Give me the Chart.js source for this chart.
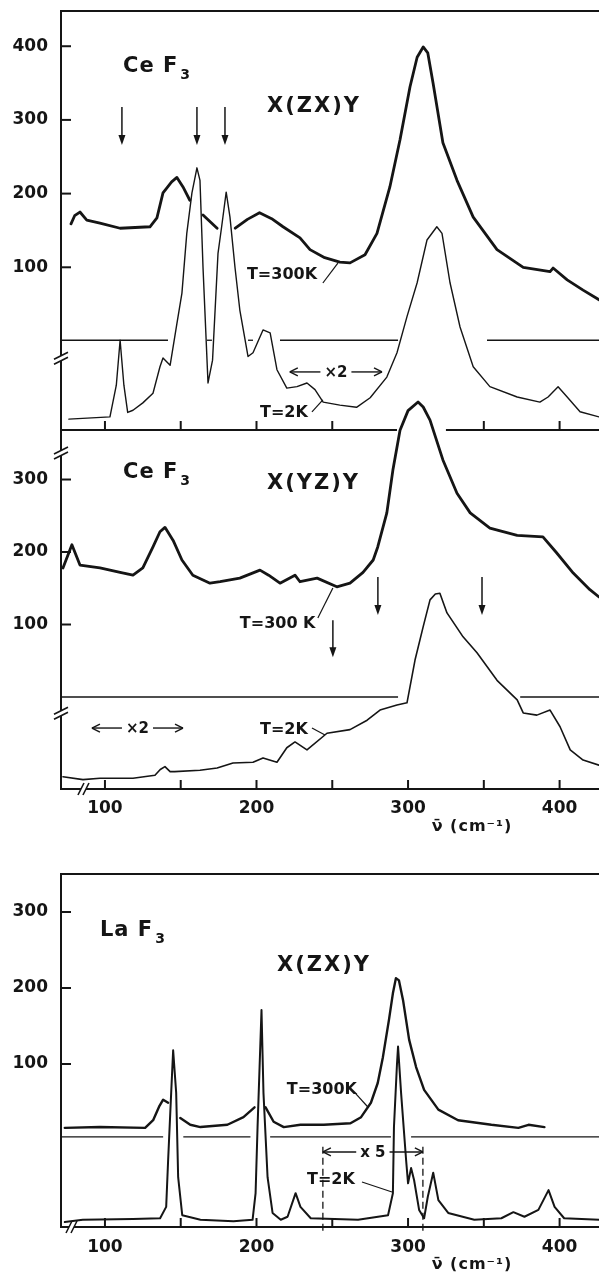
<!DOCTYPE html>
<html>
<head>
<meta charset="utf-8">
<script src="https://cdn.jsdelivr.net/npm/chart.js@4.4.0/dist/chart.umd.min.js"></script>
<style>
  html, body { margin: 0; padding: 0; background: #fff; }
  #sheet { position: relative; width: 599px; height: 1279px; overflow: hidden; background: #fff; }
  #sheet canvas { position: absolute; left: 0; }
</style>
</head>
<body>
<div id="sheet">
  <canvas id="ceZx" width="599" height="445" style="top:0"></canvas>
  <canvas id="ceYz" width="599" height="470" style="top:380px"></canvas>
  <canvas id="laZx" width="599" height="429" style="top:850px"></canvas>
</div>
<script>
// wavenumber axis (cm-1), shared by all three panels
const X_MIN = 71, X_MAX = 426;
const xTicks = [100, 150, 200, 250, 300, 350, 400];

// tick labels of the intensity axes
const ceZxTicks = [100, 200, 300, 400];
const ceYzTicks = [100, 200, 300];
const laZxTicks = [100, 200, 300];

// CeF3 X(ZX)Y, [wavenumber, intensity], null = pen lifted
const ceZx300K = [[77.6,159],[80,170],[83.5,175],[88,164],[96.7,160],[110,153],[129.7,155],[134.3,167],
  [138.3,201],[144,216],[147.5,222],[151.5,209],[156,191],null,[164.7,171],[174,153],null,
  [186,153],[194,165],[202,174],[210,166],[217.5,155],[228.7,140],[235.3,124],[245,113],[255,107],
  [261.7,106],[271.6,117],[279.5,146],[288,209],[294.7,273],[301.3,345],[306,385],[310,399],[313,391],
  [316.5,350],[323,269],[332.3,218],[343,168],[358.7,124],[376,100],[393.7,94],[395.7,99],[405,83],
  [415.5,69],[426,56]];
const ceZx2K = [[76.2,-106],[103.3,-103],[107.5,-60],[110,1],[112.5,-60],[115,-97],[118.5,-94],[125,-84],
  [131.7,-71],[136.3,-35],[138.3,-23],[143,-33],[147.5,24],[150.8,65],[154,146],[157.4,201],[160.7,235],
  [162.7,218],[164.7,100],[168,-57],[171,-26],[174.6,119],[177,155],[180,202],[182.5,168],[185.8,100],
  [189,42],[194.4,-21],[197.7,-16],[204.3,15],[209,11],[213.5,-39],[220,-64],[226.7,-62],[233.3,-57],
  [238.6,-66],[244,-83],[255,-87],[266,-90],[275,-77],[286,-49],[292.7,-16],[299.3,33],[306,79],
  [312.5,137],[319,155],[322.4,146],[327.7,79],[334.3,19],[343,-35],[354,-62],[372,-76],[387,-83],
  [392.4,-76],[399,-62],[405,-76],[413.5,-96],[426,-103]];

// CeF3 X(YZ)Y
const ceYz300K = [[72.3,178],[78.2,210],[83.5,182],[96.7,178],[110,172],[118.5,168],[125,178],[131.7,207],
  [136.3,228],[139.6,234],[145,216],[150.8,189],[158,168],[169.3,157],[176,159],[189,164],[202.3,175],
  [208,168],[215.5,157],[225.4,168],[228.7,159],[240,164],[253,152],[261.7,157],[270.3,172],[277,189],
  [280,207],[286,254],[290,313],[294.7,368],[300,395],[306.6,407],[310,400],[314.5,382],[323,327],
  [332.3,281],[341,254],[354,233],[372,223],[389,221],[398,199],[409,171],[420,148],[426,138]];
const ceYz2K = [[72.3,-110],[85.5,-114],[96.7,-112],[118.5,-112],[133,-108],[136.5,-100],[139.6,-96],
  [143,-103],[146,-103],[162.7,-101],[174,-98],[184.5,-91],[197.7,-90],[204.3,-84],[213.5,-90],[220,-70],
  [225.4,-62],[233.3,-73],[246.5,-50],[261.7,-45],[273,-32],[281.5,-18],[292.7,-11],[299.3,-8],
  [304.6,51],[310,97],[314.5,134],[318,142],[321,143],[325.7,116],[336.3,83],[345.5,61],[358.7,23],
  [372,-4],[376,-22],[385,-25],[393.7,-18],[400.3,-41],[407,-73],[415.5,-87],[426,-94]];

// LaF3 X(ZX)Y
const laZx300K = [[73.5,16],[96.7,17],[126.5,16],[131.8,26],[136,45],[138.4,53],[141.7,49],null,
  [149.7,29],[156.3,20],[163,17],[180.8,20],[191.4,30],[198.7,43],null,[206,43],[211.3,24],[218,17],
  [229,20],[244.4,20],[262,22],[269,30],[275.5,49],[280,75],[283.4,109],[287.4,158],[290,193],[292,213],
  [294,210],[296.7,184],[300.7,132],[305.3,96],[310.6,66],[320,40],[333,26],[355,20],[372.8,16],
  [379.5,20],[390,17]];
const laZx2K = [[73.5,-108],[85.4,-105],[118.5,-104],[136.4,-103],[140.4,-88],[141.7,-26],[143.7,62],
  [145,118],[147,62],[148.3,-49],[151,-99],[163,-105],[184.8,-107],[197.4,-105],[199.4,-70],[200.7,17],
  [203.3,171],[204.6,62],[207.3,-49],[210.6,-96],[216,-105],[220.5,-101],[225.8,-70],[229,-88],
  [235.8,-103],[267,-105],[286.8,-99],[290,-70],[290.7,17],[292.7,100],[293.4,123],[295.4,62],[298.7,-26],
  [300,-57],[302,-37],[304,-53],[307.3,-92],[310.6,-103],[313,-75],[316.6,-43],[320,-79],[326.5,-96],
  [343.7,-105],[361.6,-103],[369.5,-95],[376.8,-101],[386,-92],[392.7,-66],[396.7,-88],[403,-103],
  [427,-105]];

const INK = '#151515';
const FONT = '"DejaVu Sans", sans-serif';
const TICK_FONT = { family: FONT, size: 17, weight: 'bold' };

function toPoints(list) {
  let lastX = X_MIN;
  return list.map(p => {
    if (p === null) return { x: lastX, y: null };
    lastX = p[0];
    return { x: p[0], y: p[1] };
  });
}

function seg(ctx, x1, y1, x2, y2) {
  ctx.beginPath();
  ctx.moveTo(x1, y1);
  ctx.lineTo(x2, y2);
  ctx.stroke();
}

function setFont(ctx, size, spacing) {
  ctx.font = `bold ${size}px ${FONT}`;
  ctx.letterSpacing = (spacing || 0) + 'px';
}

// the scales must not push the plot area in for their labels
function noScalePadding(s) {
  s.paddingTop = 0; s.paddingBottom = 0; s.paddingLeft = 0; s.paddingRight = 0;
}

// frame, inward ticks, baselines, axis breaks and the hand lettering
const framePlugin = {
  id: 'frame',
  beforeDatasetsDraw(chart, args, o) {
    const { ctx, chartArea: a, scales: { x, y } } = chart;
    const px = v => x.getPixelForValue(v);
    const py = v => y.getPixelForValue(v);
    ctx.save();
    ctx.strokeStyle = INK;
    ctx.lineCap = 'butt';
    ctx.lineWidth = 2;
    if (o.top) seg(ctx, a.left - 1, a.top, a.right, a.top);
    seg(ctx, a.left, a.top - 1, a.left, a.bottom + 1);
    (o.bottomSegs || [[X_MIN, X_MAX]]).forEach(([s, e]) => seg(ctx, px(s), a.bottom, px(e), a.bottom));
    y.ticks.forEach(t => seg(ctx, a.left, py(t.value), a.left + 10, py(t.value)));
    x.ticks.forEach(t => {
      if ((o.skipX || []).includes(t.value)) return;
      seg(ctx, px(t.value), a.bottom, px(t.value), a.bottom - 9);
    });
    ctx.lineWidth = 1.3;
    o.baseSegs.forEach(([s, e]) => seg(ctx, px(s), py(o.baseValue), px(e), py(o.baseValue)));
    ctx.restore();
  },
  afterDatasetsDraw(chart, args, o) {
    const { ctx, chartArea: a, scales: { x, y } } = chart;
    const px = v => x.getPixelForValue(v);
    const py = v => y.getPixelForValue(v);
    ctx.save();
    ctx.strokeStyle = INK;
    ctx.fillStyle = INK;

    // axis breaks
    ctx.lineWidth = 1.6;
    (o.yBreaks || []).forEach(v => {
      const yy = py(v), l = a.left;
      ctx.fillStyle = '#fff';
      ctx.beginPath();
      ctx.moveTo(l - 7, yy + 2); ctx.lineTo(l + 7, yy - 5); ctx.lineTo(l + 7, yy); ctx.lineTo(l - 7, yy + 7);
      ctx.closePath(); ctx.fill();
      ctx.fillStyle = INK;
      seg(ctx, l - 7, yy + 2, l + 7, yy - 5);
      seg(ctx, l - 7, yy + 7, l + 7, yy);
    });
    (o.xBreaks || []).forEach(v => {
      const xx = px(v), b = a.bottom;
      ctx.fillStyle = '#fff';
      ctx.fillRect(xx - 2, b - 2, 5, 4);
      ctx.fillStyle = INK;
      seg(ctx, xx - 5, b + 6, xx + 1, b - 6);
      seg(ctx, xx, b + 6, xx + 6, b - 6);
    });

    // dashed guides
    ctx.lineWidth = 1.3;
    (o.dashes || []).forEach(d => {
      ctx.setLineDash([7, 4]);
      seg(ctx, px(d.x), py(d.y1), px(d.x), py(d.y2));
    });
    ctx.setLineDash([]);

    // down arrows
    ctx.lineWidth = 1.5;
    (o.downArrows || []).forEach(d => {
      const xx = px(d.x), y1 = py(d.y1), y2 = py(d.y2);
      seg(ctx, xx, y1, xx, y2 - 6);
      ctx.beginPath();
      ctx.moveTo(xx, y2); ctx.lineTo(xx - 3.5, y2 - 10); ctx.lineTo(xx + 3.5, y2 - 10);
      ctx.closePath(); ctx.fill();
    });

    // leader lines
    ctx.lineWidth = 1.2;
    (o.leaders || []).forEach(([x1, y1, x2, y2]) => seg(ctx, px(x1), py(y1), px(x2), py(y2)));

    // span arrows with a factor in the middle
    (o.spans || []).forEach(s => {
      const x1 = px(s.x1), x2 = px(s.x2), yy = py(s.y);
      setFont(ctx, 15, 0);
      const w = ctx.measureText(s.label).width;
      const cx = (x1 + x2) / 2;
      ctx.lineWidth = 1.4;
      seg(ctx, x1, yy, cx - w / 2 - 4, yy);
      seg(ctx, cx + w / 2 + 4, yy, x2, yy);
      seg(ctx, x1, yy, x1 + 8, yy - 4); seg(ctx, x1, yy, x1 + 8, yy + 4);
      seg(ctx, x2, yy, x2 - 8, yy - 4); seg(ctx, x2, yy, x2 - 8, yy + 4);
      ctx.textAlign = 'center';
      ctx.textBaseline = 'middle';
      ctx.fillText(s.label, cx, yy + 1);
    });

    // lettering
    (o.texts || []).forEach(t => {
      setFont(ctx, t.size, t.spacing);
      ctx.textAlign = 'left';
      ctx.textBaseline = 'middle';
      const xx = px(t.x), yy = py(t.y);
      ctx.fillText(t.text, xx, yy);
      if (t.sub) {
        const w = ctx.measureText(t.text).width;
        setFont(ctx, Math.round(t.size * 0.65), 0);
        ctx.fillText(t.sub, xx + w + 2, yy + t.size * 0.42);
      }
    });
    if (o.title) {
      setFont(ctx, 16, 1);
      ctx.textAlign = 'center';
      ctx.textBaseline = 'middle';
      ctx.fillText(o.title.text, px(o.title.x), a.bottom + o.title.dy);
    }
    ctx.letterSpacing = '0px';
    ctx.restore();
  }
};

function makeChart(id, cfg) {
  return new Chart(document.getElementById(id), {
    type: 'line',
    data: {
      datasets: cfg.series.map(s => ({
        data: toPoints(s.data),
        borderColor: INK,
        borderWidth: s.width,
        borderJoinStyle: 'round',
        borderCapStyle: 'round',
        pointRadius: 0,
        tension: 0,
        spanGaps: false,
        clip: s.clip === undefined ? 0 : s.clip
      }))
    },
    options: {
      responsive: false,
      animation: false,
      devicePixelRatio: 1,
      layout: { padding: { top: cfg.padTop, left: 0, right: 0, bottom: 0 } },
      plugins: { legend: { display: false }, tooltip: { enabled: false }, frame: cfg.frame },
      scales: {
        x: {
          type: 'linear', min: X_MIN, max: X_MAX,
          grid: { display: false, drawTicks: false },
          border: { display: false },
          afterBuildTicks: s => { s.ticks = xTicks.map(v => ({ value: v })); },
          afterFit: s => { s.height = cfg.xHeight; noScalePadding(s); },
          ticks: {
            display: cfg.xLabels, padding: cfg.xPad, font: TICK_FONT, color: INK,
            autoSkip: false, maxRotation: 0,
            callback: v => (v % 100 === 0 ? String(v) : '')
          }
        },
        y: {
          type: 'linear', min: cfg.yMin, max: cfg.yMax,
          grid: { display: false, drawTicks: false },
          border: { display: false },
          afterBuildTicks: s => { s.ticks = cfg.yTicks.map(v => ({ value: v })); },
          afterFit: s => { s.width = 61; noScalePadding(s); },
          ticks: { padding: 13, font: TICK_FONT, color: INK, callback: v => String(v) }
        }
      }
    },
    plugins: [framePlugin]
  });
}

Chart.defaults.font.family = FONT;

makeChart('ceZx', {
  padTop: 11, xHeight: 15, xLabels: false, xPad: 0,
  yMin: -120.8, yMax: 447.8, yTicks: ceZxTicks,
  series: [{ data: ceZx300K, width: 2.8 }, { data: ceZx2K, width: 1.4 }],
  frame: {
    top: true,
    bottomSegs: [[X_MIN, 292.7], [325, X_MAX]], skipX: [300],
    baseValue: 1,
    baseSegs: [[X_MIN, 141.6], [167.3, 170.6], [194.4, 197.7], [215.5, 293.4], [352.1, X_MAX]],
    yBreaks: [-22],
    texts: [
      { x: 111.9, y: 372, text: 'Ce F', sub: '3', size: 21, spacing: 1 },
      { x: 206.9, y: 317.5, text: 'X(ZX)Y', size: 21, spacing: 2 },
      { x: 193.7, y: 89.6, text: 'T=300K', size: 16 },
      { x: 202.3, y: -97.7, text: 'T=2K', size: 16 }
    ],
    downArrows: [
      { x: 111.2, y1: 317.5, y2: 266 },
      { x: 160.7, y1: 317.5, y2: 266 },
      { x: 179.2, y1: 317.5, y2: 266 }
    ],
    spans: [{ x1: 222, x2: 282.8, y: -42, label: '×2' }],
    leaders: [[243.8, 78.7, 253.7, 105.8], [236.6, -96.3, 243.8, -80]]
  }
});

makeChart('ceYz', {
  padTop: 50, xHeight: 61, xLabels: true, xPad: 9,
  yMin: -126.9, yMax: 368.3, yTicks: ceYzTicks,
  series: [{ data: ceYz300K, width: 2.8, clip: false }, { data: ceYz2K, width: 1.6 }],
  frame: {
    top: false,
    baseValue: 0,
    baseSegs: [[X_MIN, 293.4], [374, X_MAX]],
    yBreaks: [338, -21],
    xBreaks: [85.5],
    texts: [
      { x: 111.9, y: 310, text: 'Ce F', sub: '3', size: 21, spacing: 1 },
      { x: 206.9, y: 295, text: 'X(YZ)Y', size: 21, spacing: 2 },
      { x: 189, y: 101, text: 'T=300 K', size: 16 },
      { x: 202.3, y: -45.5, text: 'T=2K', size: 16 }
    ],
    downArrows: [
      { x: 250.4, y1: 106, y2: 55 },
      { x: 280.1, y1: 165.5, y2: 113 },
      { x: 348.8, y1: 165.5, y2: 113 }
    ],
    spans: [{ x1: 91.4, x2: 151.5, y: -42.8, label: '×2' }],
    leaders: [[240.5, 109, 250.4, 150.3], [236.6, -42.8, 245.2, -52.4]],
    title: { x: 342.2, dy: 38, text: 'ν̄ (cm⁻¹)' }
  }
});

makeChart('laZx', {
  padTop: 24, xHeight: 52, xLabels: true, xPad: 10,
  yMin: -114.5, yMax: 350, yTicks: laZxTicks,
  series: [{ data: laZx300K, width: 2.4 }, { data: laZx2K, width: 2 }],
  frame: {
    top: true,
    baseValue: 4,
    baseSegs: [[X_MIN, 138.4], [151.7, 196], [209, 288.7], [302, X_MAX]],
    xBreaks: [77.6],
    texts: [
      { x: 96.7, y: 276, text: 'La F', sub: '3', size: 21, spacing: 1 },
      { x: 213.5, y: 230, text: 'X(ZX)Y', size: 21, spacing: 2 },
      { x: 220, y: 66, text: 'T=300K', size: 16 },
      { x: 233.3, y: -52.6, text: 'T=2K', size: 16 }
    ],
    dashes: [{ x: 243.8, y1: -9, y2: -122 }, { x: 309.8, y1: -9, y2: -122 }],
    spans: [{ x1: 243.8, x2: 309.8, y: -15.8, label: 'x 5' }],
    leaders: [[265, 62, 273.5, 43.4], [269.6, -55.3, 289.4, -68.4]],
    title: { x: 342.2, dy: 38, text: 'ν̄ (cm⁻¹)' }
  }
});
</script>
</body>
</html>
